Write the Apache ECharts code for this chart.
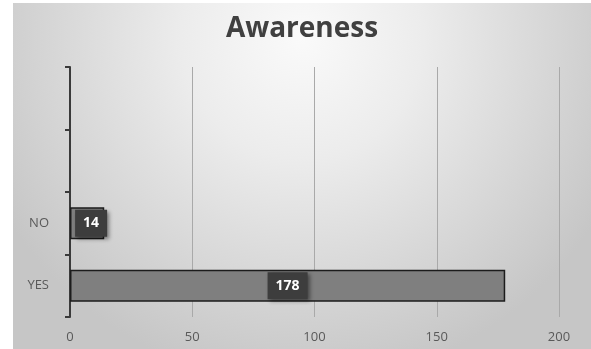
<!DOCTYPE html>
<html>
<head>
<meta charset="utf-8">
<script src="https://cdn.jsdelivr.net/npm/echarts@6/dist/echarts.min.js"></script>
<style>
  html, body { margin: 0; padding: 0; background: #ffffff; }
  #chart { position: absolute; left: 13px; top: 3px; width: 578px; height: 346px; }
</style>
</head>
<body>
<div id="chart"></div>
<script>
// Survey answers (bottom to top); the two upper slots are empty rows
const categories = ['YES', 'NO', '', ''];
const counts = [178, 14, null, null];
const valueTicks = [0, 50, 100, 150, 200];

const chart = echarts.init(document.getElementById('chart'));

const labelBox = {
  show: true,
  position: 'inside',
  color: '#ffffff',
  fontFamily: 'Open Sans',
  fontWeight: 'bold',
  fontSize: 14,
  backgroundColor: '#3d3d3d',
  padding: [7, 8, 6, 8],
  shadowColor: 'rgba(0,0,0,0.45)',
  shadowBlur: 4,
  shadowOffsetX: 2,
  shadowOffsetY: 2
};

// short bars get their label nudged off the axis line
const barData = counts.map(v => (v !== null && v < 30) ? { value: v, label: { offset: [4, 0] } } : v);

chart.setOption({
  backgroundColor: {
    type: 'radial', x: 0.5, y: 0.1, r: 1.0,
    colorStops: [
      { offset: 0, color: '#fafafa' },
      { offset: 0.35, color: '#ececec' },
      { offset: 1, color: '#c6c6c6' }
    ]
  },
  title: {
    text: 'Awareness',
    left: 'center',
    top: 7,
    textStyle: { fontFamily: 'Open Sans', fontWeight: 'bold', fontSize: 28, color: '#404040' }
  },
  grid: { left: 57, right: 32, top: 64, bottom: 32, containLabel: false },
  xAxis: {
    type: 'value',
    min: valueTicks[0],
    max: valueTicks[valueTicks.length - 1],
    interval: valueTicks[1] - valueTicks[0],
    axisLine: { show: false },
    axisTick: { show: false },
    axisLabel: { color: '#595959', fontFamily: 'Open Sans', fontSize: 13, margin: 14 },
    splitLine: { show: true, lineStyle: { color: '#a9a9a9', width: 1 } }
  },
  yAxis: {
    type: 'category',
    data: categories,
    axisLine: { show: true, lineStyle: { color: '#3a3a3a', width: 2 } },
    axisTick: { show: true, length: 5, lineStyle: { color: '#3a3a3a', width: 2 } },
    axisLabel: { color: '#595959', fontFamily: 'Open Sans', fontSize: 13, margin: 21 },
    splitLine: { show: false }
  },
  series: [{
    type: 'bar',
    data: barData,
    barWidth: '51%',
    itemStyle: { color: '#7f7f7f', borderColor: '#1c1c1c', borderWidth: 1.5 },
    label: labelBox,
    silent: true
  }],
  animation: false
});
</script>
</body>
</html>
